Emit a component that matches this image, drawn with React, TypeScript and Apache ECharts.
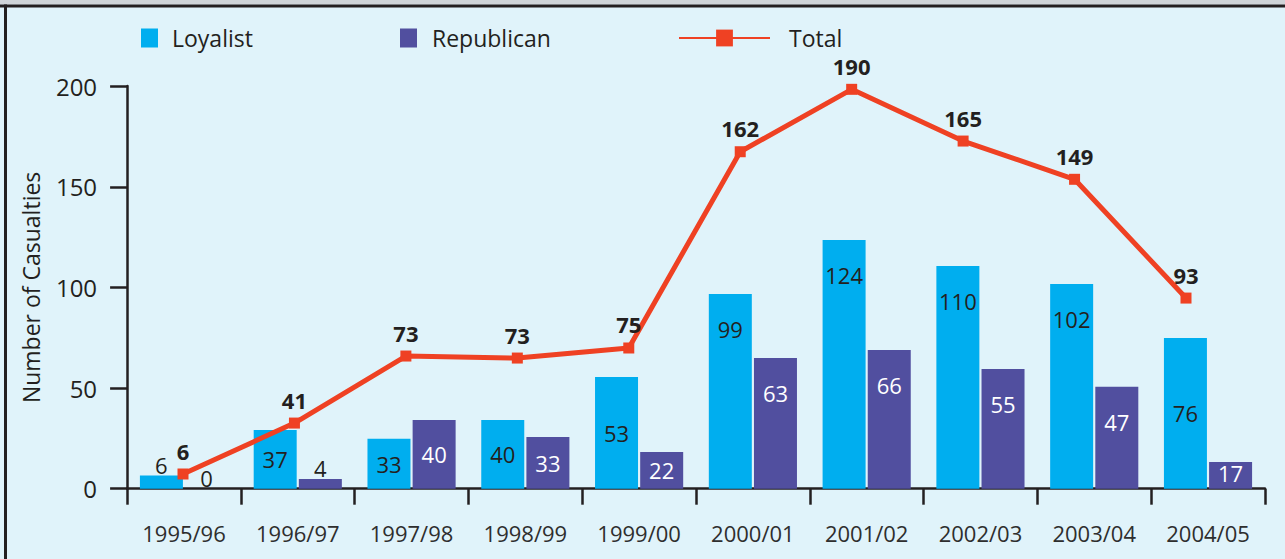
import React, { useEffect, useRef } from "react";
import * as echarts from "echarts";

const categories = ["1995/96", "1996/97", "1997/98", "1998/99", "1999/00", "2000/01", "2001/02", "2002/03", "2003/04", "2004/05"];
// bar heights as drawn in the picture
const loyalistHeights = [6.5, 29.2, 24.8, 34.1, 55.5, 96.7, 123.5, 110.6, 101.7, 74.9];
const republicanHeights = [0, 4.8, 34.1, 25.7, 18.2, 64.9, 68.9, 59.5, 50.6, 13.3];
// printed labels
const loyalistLabels = [6, 37, 33, 40, 53, 99, 124, 110, 102, 76];
const republicanLabels = [0, 4, 40, 33, 22, 63, 66, 55, 47, 17];
// total line as drawn and as printed
const totalPoints = [7.3, 32.6, 65.9, 64.9, 69.9, 167.4, 198.4, 172.7, 153.7, 94.7];
const totalLabels = [6, 41, 73, 73, 75, 162, 190, 165, 149, 93];
const yTicks = [0, 50, 100, 150, 200];

// label placement style for loyalist bars drawn mid-bar
const loyalistMidLabel = [false, true, true, true, true, false, false, false, false, true];

const FONT = "'Open Sans', sans-serif";
const DARK = "#231f20";
const C_LOY = "#00aeef";
const C_REP = "#514f9f";
const C_TOT = "#ef4123";

function barLabel(v: number, mid: boolean, color: string) {
  if (v < 8) return { position: "top", distance: 0, color: DARK };
  if (v < 16) return { position: "insideTop", distance: 0, color };
  if (v < 40 || mid) return { position: "inside", color };
  return { position: "insideTop", distance: 24, color };
}

export default function App() {
  const ref = useRef<HTMLDivElement>(null);
  useEffect(() => {
    if (!ref.current) return;
    const chart = echarts.init(ref.current, null, { renderer: "svg" });
    const gridTop = 86.1;
    const gridBottom = 70.3;
    const legendText = { fontSize: 23, color: DARK, fontFamily: FONT, lineHeight: 24 };
    const option: any = {
      animation: false,
      backgroundColor: "#e0f3fa",
      textStyle: { fontFamily: FONT },
      graphic: [
        { type: "rect", shape: { x: 0, y: 0, width: 1285, height: 4.5 }, style: { fill: "#cfd4d8" } },
        { type: "rect", shape: { x: 0, y: 4.5, width: 1285, height: 3 }, style: { fill: DARK } },
        { type: "rect", shape: { x: 4, y: 4.5, width: 3, height: 560 }, style: { fill: DARK } },
      ],
      legend: [
        {
          data: ["Loyalist"], left: 141, top: 26, padding: 0, itemWidth: 17, itemHeight: 19, icon: "rect",
          textStyle: { ...legendText, padding: [0, 0, 0, 9] },
        },
        {
          data: ["Republican"], left: 400, top: 26, padding: 0, itemWidth: 17, itemHeight: 19, icon: "rect",
          textStyle: { ...legendText, padding: [0, 0, 0, 10] },
        },
        {
          data: ["Total"], left: 678, top: 26, padding: 0, itemWidth: 91, itemHeight: 21,
          textStyle: { ...legendText, padding: [0, 0, 0, 14] },
        },
      ],
      grid: [
        { left: 127.1, right: 20.1, top: gridTop, bottom: gridBottom },
        { left: 183, right: 99, top: gridTop, bottom: gridBottom },
      ],
      xAxis: [
        {
          type: "category", gridIndex: 0, data: categories,
          axisLine: { lineStyle: { color: DARK, width: 2.5 } },
          axisTick: { show: true, length: 16, lineStyle: { color: DARK, width: 2.5 } },
          axisLabel: { fontSize: 22, color: "#2e2e2e", margin: 33, fontFamily: FONT },
        },
        { type: "category", gridIndex: 1, data: categories, boundaryGap: false, show: false },
      ],
      yAxis: [
        {
          type: "value", gridIndex: 0, min: yTicks[0], max: yTicks[yTicks.length - 1], interval: 50,
          name: "Number of Casualties", nameLocation: "middle", nameGap: 85, nameRotate: 90,
          nameTextStyle: { fontSize: 23, color: DARK, fontFamily: FONT },
          axisLine: { show: true, lineStyle: { color: DARK, width: 2.5 } },
          axisTick: { show: true, length: 17, lineStyle: { color: DARK, width: 2.5 } },
          axisLabel: { fontSize: 24, color: DARK, margin: 30, fontFamily: FONT },
          splitLine: { show: false },
        },
        { type: "value", gridIndex: 1, min: yTicks[0], max: yTicks[yTicks.length - 1], show: false },
      ],
      series: [
        {
          name: "Loyalist", type: "bar", xAxisIndex: 0, yAxisIndex: 0, barWidth: 43, barGap: "5%",
          itemStyle: { color: C_LOY },
          data: loyalistHeights.map((v, i) => ({
            value: v,
            label: { show: true, formatter: String(loyalistLabels[i]), fontSize: 22, fontFamily: FONT, ...barLabel(v, loyalistMidLabel[i], DARK) },
          })),
        },
        {
          name: "Republican", type: "bar", xAxisIndex: 0, yAxisIndex: 0, barWidth: 43,
          itemStyle: { color: C_REP },
          data: republicanHeights.map((v, i) => ({
            value: v,
            label: { show: true, formatter: String(republicanLabels[i]), fontSize: 22, fontFamily: FONT, ...barLabel(v, false, "#ffffff") },
          })),
        },
        {
          name: "Total", type: "line", xAxisIndex: 1, yAxisIndex: 1, z: 5,
          symbol: "rect", symbolSize: 11,
          lineStyle: { color: C_TOT, width: 5 },
          itemStyle: { color: C_TOT },
          label: {
            show: true, position: "top", distance: 7, fontSize: 22, fontWeight: "bold", color: DARK, fontFamily: FONT,
            formatter: (p: any) => String(totalLabels[p.dataIndex]),
          },
          data: totalPoints,
        },
      ],
    };
    chart.setOption(option);
    return () => chart.dispose();
  }, []);
  return <div ref={ref} style={{ position: "absolute", left: 0, top: 0, width: 1285, height: 559 }} />;
}
